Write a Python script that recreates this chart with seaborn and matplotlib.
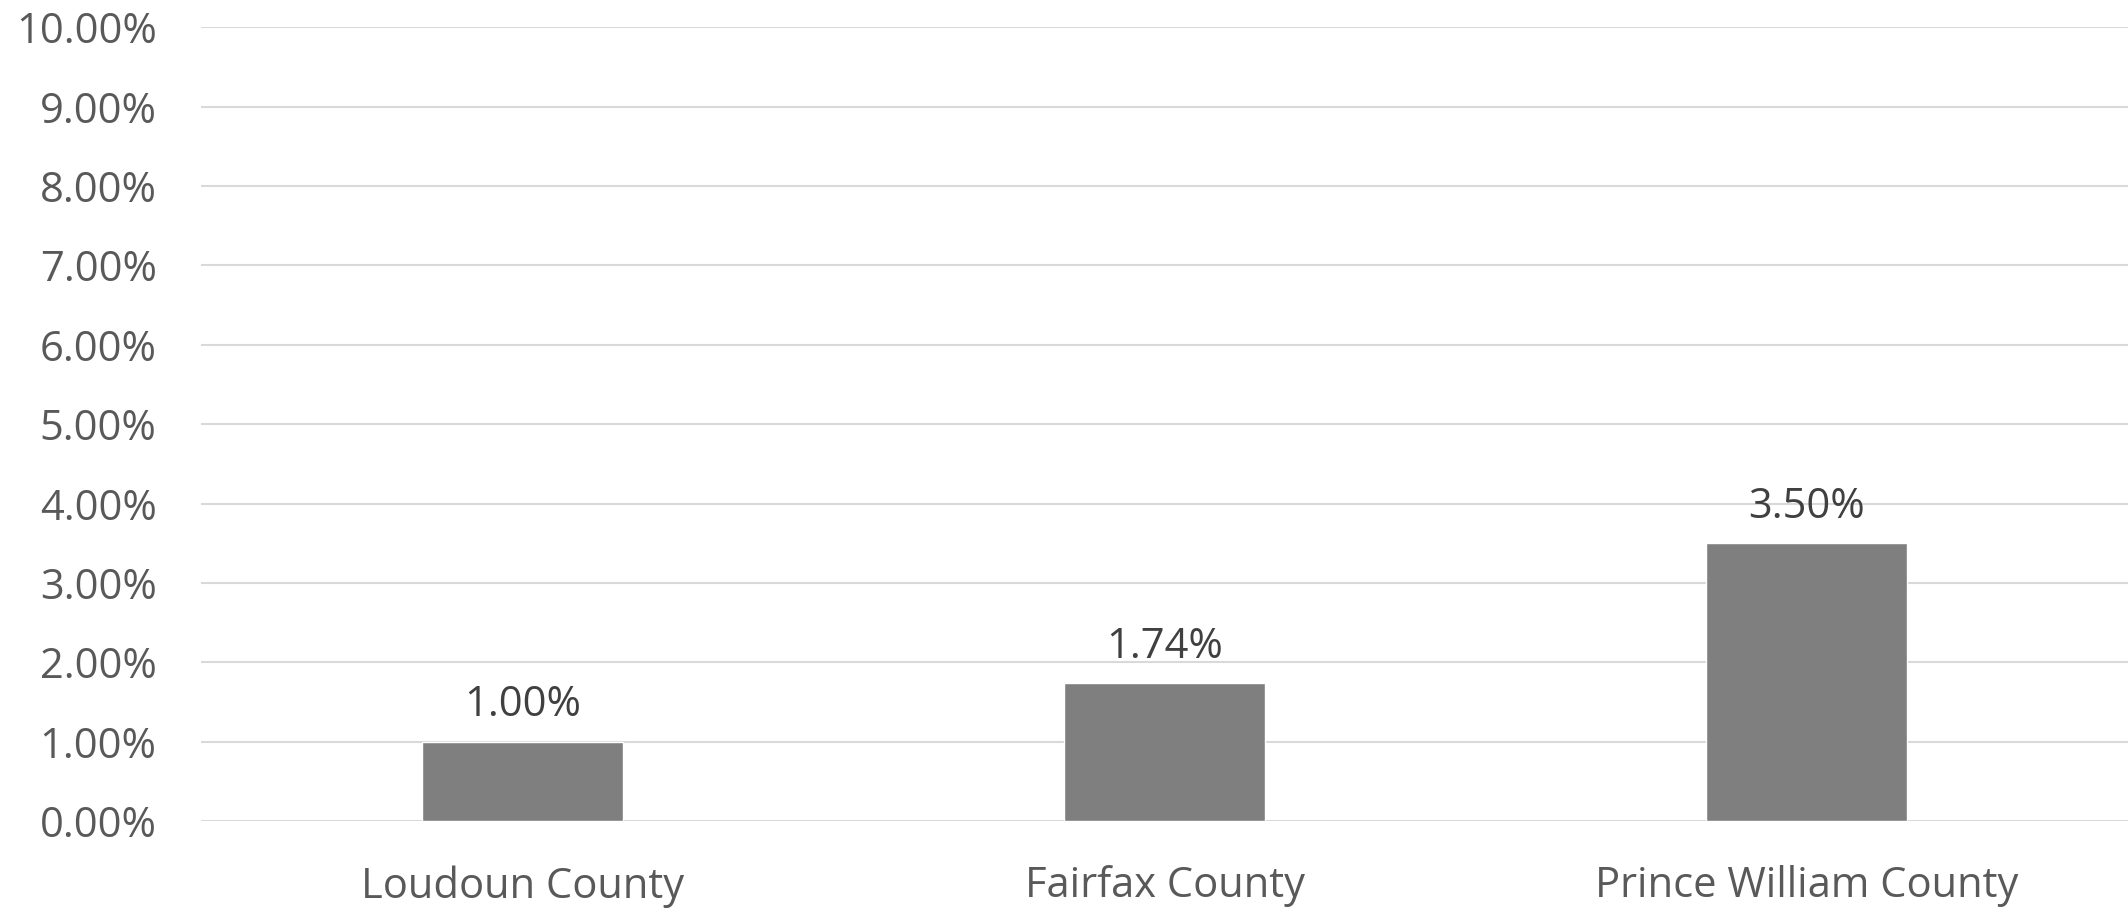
import numpy as np
import pandas as pd
import matplotlib.pyplot as plt
import seaborn as sns
from matplotlib.ticker import FuncFormatter

# data
counties = ["Loudoun County", "Fairfax County", "Prince William County"]
rates = [1.00, 1.74, 3.50]
y_ticks = [0, 1, 2, 3, 4, 5, 6, 7, 8, 9, 10]

df = pd.DataFrame({"county": counties, "rate": rates})

sns.set_style("white")
plt.rcParams['font.family'] = ['Open Sans', 'DejaVu Sans']

fig = plt.figure(figsize=(21.28, 9.08), dpi=100)
ax = fig.add_axes([0.0945, 0.0958, 0.9055, 0.8742])

sns.barplot(data=df, x="county", y="rate", color="#7f7f7f", saturation=1,
            width=0.313, ax=ax, zorder=3)

ax.set_ylim(0, 10)
ax.set_xlim(-0.5, 2.5)
ax.set_yticks(y_ticks)
ax.yaxis.set_major_formatter(FuncFormatter(lambda v, p: f"{v:.2f}%"))
ax.grid(axis="y", color="#d9d9d9", linewidth=1.5, zorder=0)
ax.set_axisbelow(True)
for s in ax.spines.values():
    s.set_visible(False)
ax.tick_params(axis="both", length=0, labelsize=30, labelcolor="#595959")
ax.tick_params(axis="y", pad=32)
ax.tick_params(axis="x", pad=32)
ax.set_xlabel("")
ax.set_ylabel("")

# data labels
for p, v in zip(ax.patches, rates):
    ax.annotate(f"{v:.2f}%", (p.get_x() + p.get_width() / 2, p.get_height()),
                xytext=(0, 11), textcoords="offset points", ha="center", va="bottom",
                fontsize=30, color="#404040")

fig.savefig("out.png", dpi=100)
